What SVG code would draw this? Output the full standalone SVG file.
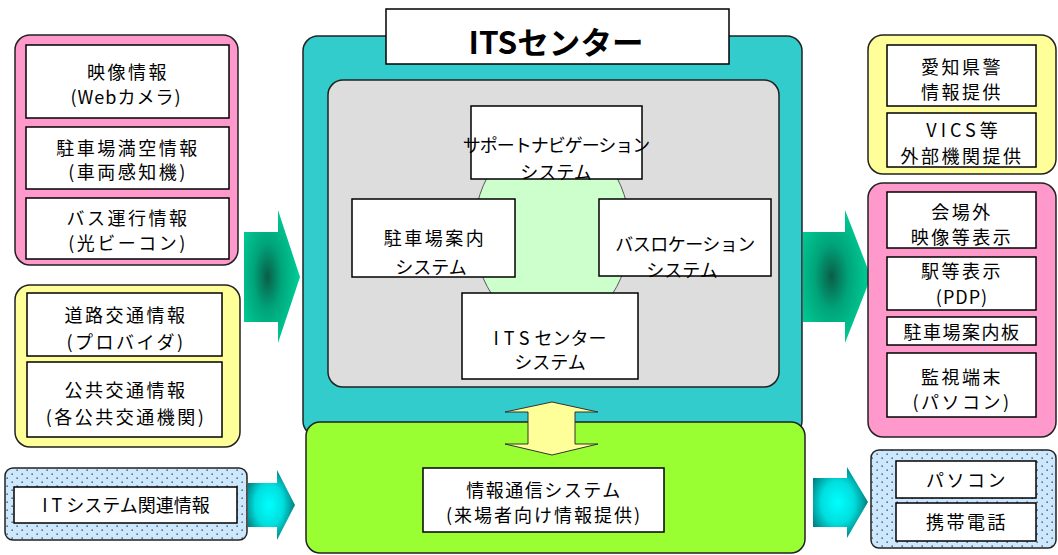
<svg xmlns="http://www.w3.org/2000/svg" width="1058" height="555" viewBox="0 0 1058 555">
<style>
.box{fill:#ffffff;stroke:#000000;stroke-width:1.5}
.cont{stroke:#222222;stroke-width:1.5}
.t{font-family:"Noto Sans CJK JP","Noto Sans",sans-serif;font-size:18px;text-anchor:middle;fill:#000000;letter-spacing:2.5px}
.k{letter-spacing:0px}
.n{letter-spacing:-1px}
</style>
<defs>
<pattern id="dots" width="10" height="8" patternUnits="userSpaceOnUse">
<rect width="10" height="8" fill="#cce8ff"/>
<rect x="1.5" y="1.5" width="1.3" height="1.3" fill="#333333"/>
<rect x="6.5" y="5.5" width="1.3" height="1.3" fill="#333333"/>
</pattern>
<radialGradient id="gArrow" cx="0.42" cy="0.5" r="0.55">
<stop offset="0" stop-color="#0a5e48"/>
<stop offset="0.45" stop-color="#00a47a"/>
<stop offset="1" stop-color="#00cc96"/>
</radialGradient>
<radialGradient id="cArrow" cx="0.45" cy="0.5" r="0.6">
<stop offset="0" stop-color="#00ffff"/>
<stop offset="0.5" stop-color="#00dede"/>
<stop offset="1" stop-color="#006a6a"/>
</radialGradient>
</defs>

<g id="connectors">
<path d="M244,232 L278,232 L278,210 L300,277 L278,343 L278,322 L244,322 Z" fill="url(#gArrow)"/>
<path d="M803,232 L845,232 L845,210 L871,277 L845,343 L845,322 L803,322 Z" fill="url(#gArrow)"/>
<path d="M248,483 L277,483 L277,470 L295,505 L277,540 L277,527 L248,527 Z" fill="url(#cArrow)"/>
<path d="M813,478 L847,478 L847,467 L868,502 L847,538 L847,527 L813,527 Z" fill="url(#cArrow)"/>
</g>

<g id="left-pink">
<rect class="cont" x="15" y="35" width="223" height="230" rx="15" fill="#ff99cc"/>
<g id="n-eizou"><rect class="box" x="26" y="45" width="203" height="73"/>
<text class="t" x="128" y="79">映像情報</text><text class="t" x="126" y="104" style="letter-spacing:1px">(Webカメラ)</text></g>
<g id="n-parking"><rect class="box" x="26" y="127" width="203" height="62"/>
<text class="t" x="128" y="155">駐車場満空情報</text><text class="t" x="128" y="179">(車両感知機)</text></g>
<g id="n-bus"><rect class="box" x="26" y="198" width="203" height="61"/>
<text class="t" x="128" y="225">バス運行情報</text><text class="t" x="128" y="250">(光ビーコン)</text></g>
</g>

<g id="left-yellow">
<rect class="cont" x="15" y="285" width="225" height="162" rx="15" fill="#ffff99"/>
<g id="n-road"><rect class="box" x="27" y="293" width="195" height="63"/>
<text class="t" x="126" y="322">道路交通情報</text><text class="t" x="126" y="349">(プロバイダ)</text></g>
<g id="n-public"><rect class="box" x="27" y="362" width="195" height="75"/>
<text class="t" x="126" y="397">公共交通情報</text><text class="t" x="126" y="424">(各公共交通機関)</text></g>
</g>

<g id="left-dotted">
<rect class="cont" x="5" y="468" width="242" height="72" rx="8" fill="url(#dots)"/>
<g id="n-it"><rect class="box" x="14" y="487" width="223" height="36"/>
<text class="t" x="126" y="512" style="letter-spacing:0px"><tspan style="letter-spacing:4px">IT</tspan>システム関連情報</text></g>
</g>

<g id="its-center">
<rect class="cont" x="303" y="36" width="499" height="400" rx="15" fill="#33cccc"/>
<rect class="cont" x="328" y="80" width="451" height="307" rx="15" fill="#dddddd"/>
<ellipse cx="552" cy="232" rx="78" ry="98" fill="#ccffcc" stroke="#555555" stroke-width="1"/>
<g id="n-nav"><rect class="box" x="471" y="106" width="171" height="73"/>
<text class="t n" x="556" y="152">サポートナビゲーション</text><text class="t k" x="556" y="179">システム</text></g>
<g id="n-parkguide"><rect class="box" x="352" y="199" width="163" height="78"/>
<text class="t" x="435" y="245">駐車場案内</text><text class="t k" x="431" y="274">システム</text></g>
<g id="n-busloc"><rect class="box" x="599" y="199" width="172" height="77"/>
<text class="t" x="685" y="251" style="letter-spacing:-0.5px">バスロケーション</text><text class="t k" x="682" y="277">システム</text></g>
<g id="n-itssys"><rect class="box" x="462" y="293" width="176" height="86"/>
<text class="t k" x="550" y="345"><tspan style="letter-spacing:5px">ITS</tspan>センター</text><text class="t k" x="550" y="369">システム</text></g>
<g id="n-title"><rect class="box" x="386" y="9" width="343" height="55"/>
<text x="556" y="54" font-family="'Noto Sans CJK JP','Noto Sans',sans-serif" font-size="31" font-weight="bold" text-anchor="middle" textLength="175" lengthAdjust="spacingAndGlyphs">ITSセンター</text></g>
</g>

<g id="comm">
<rect class="cont" x="306" y="422" width="499" height="131" rx="14" fill="#99ff33"/>
<path d="M552,402 L598,412 L575,412 L575,444 L598,444 L552,455 L505,444 L528,444 L528,412 L505,412 Z" fill="#ffff99" stroke="#333333" stroke-width="1"/>
<g id="n-comm"><rect class="box" x="423" y="468" width="241" height="64"/>
<text class="t" x="544" y="497" style="letter-spacing:1.5px">情報通信システム</text><text class="t" x="544" y="522" style="letter-spacing:2px">(来場者向け情報提供)</text></g>
</g>

<g id="right-yellow">
<rect class="cont" x="868" y="35" width="188" height="139" rx="15" fill="#ffff99"/>
<g id="n-police"><rect class="box" x="887" y="45" width="149" height="61"/>
<text class="t" x="962" y="74">愛知県警</text><text class="t" x="962" y="99">情報提供</text></g>
<g id="n-vics"><rect class="box" x="887" y="113" width="149" height="54"/>
<text class="t k" x="962" y="137"><tspan style="letter-spacing:4px">VICS</tspan>等</text><text class="t" x="962" y="163">外部機関提供</text></g>
</g>

<g id="right-pink">
<rect class="cont" x="868" y="183" width="188" height="254" rx="15" fill="#ff99cc"/>
<g id="n-venue"><rect class="box" x="887" y="192" width="149" height="56"/>
<text class="t" x="962" y="219">会場外</text><text class="t" x="962" y="244">映像等表示</text></g>
<g id="n-station"><rect class="box" x="887" y="257" width="149" height="53"/>
<text class="t" x="962" y="278">駅等表示</text><text class="t" x="962" y="304" style="letter-spacing:1px">(PDP)</text></g>
<g id="n-board"><rect class="box" x="887" y="317" width="149" height="28"/>
<text class="t" x="962" y="339" style="letter-spacing:1.5px">駐車場案内板</text></g>
<g id="n-monitor"><rect class="box" x="887" y="353" width="149" height="64"/>
<text class="t" x="962" y="384">監視端末</text><text class="t" x="962" y="409">(パソコン)</text></g>
</g>

<g id="right-dotted">
<rect class="cont" x="871" y="450" width="185" height="98" rx="8" fill="url(#dots)"/>
<g id="n-pc"><rect class="box" x="896" y="461" width="140" height="37"/>
<text class="t" x="967" y="487">パソコン</text></g>
<g id="n-mobile"><rect class="box" x="896" y="503" width="140" height="38"/>
<text class="t" x="967" y="529">携帯電話</text></g>
</g>
</svg>
